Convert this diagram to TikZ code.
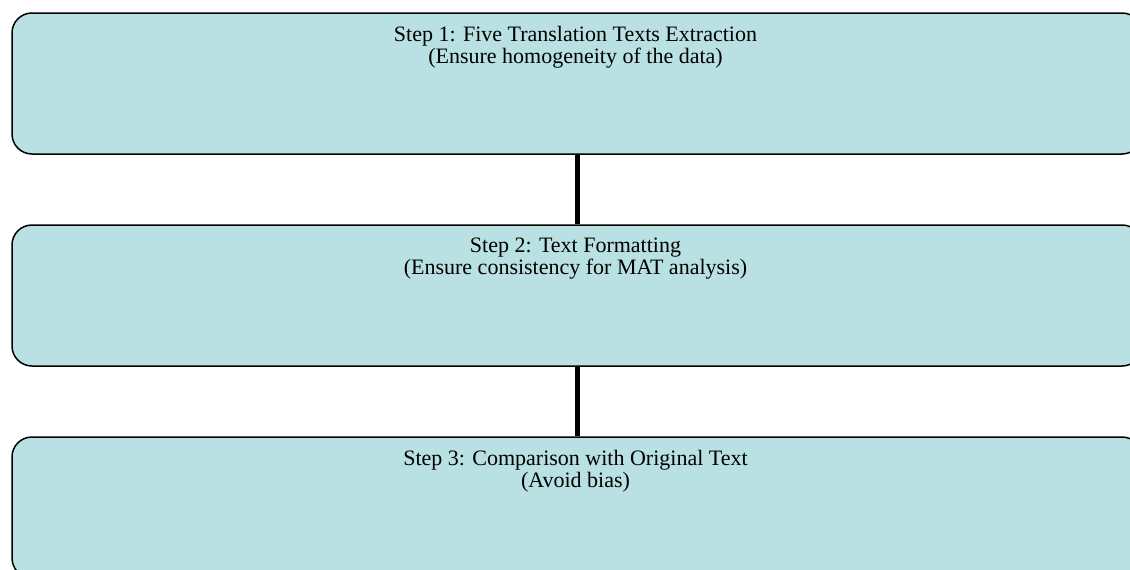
\documentclass[tikz,border=0pt]{standalone}
\usepackage{fontspec}
\setmainfont{Liberation Serif}
\usetikzlibrary{positioning}

\definecolor{boxfill}{RGB}{185,224,227}

\begin{document}
\begin{tikzpicture}[x=1pt, y=-1pt,
    stepbox/.style={draw=black, line width=1.5pt, fill=boxfill, rounded corners=20pt,
      minimum width=1130pt, minimum height=141pt, inner sep=0pt},
    steptext/.style={align=center, font=\fontsize{22}{22}\selectfont, inner sep=0pt},
    link/.style={line width=5pt, black}]
   % Sizes
   \pgfmathsetmacro{\gap}{212}
   \useasboundingbox (0,0) rectangle (1130,570);
   \clip (0,0) rectangle (1130,570);
   % boxes
   \node[stepbox] (step1) at (577, 83.5) {};
   \node[stepbox] (step2) at (577, 83.5+\gap) {};
   \node[stepbox] (step3) at (577, 83.5+2*\gap) {};

   % links
   \draw[link] (step1.south) -- (step2.north);
   \draw[link] (step2.south) -- (step3.north);

   % labels
   \node[steptext, below=13.5pt of step1.north, xshift=-1.5pt] (text1)
     {Step 1: Five Translation Texts Extraction\\(Ensure homogeneity of the data)};
   \node[steptext, below=13.5pt of step2.north, xshift=-1.5pt] (text2)
     {Step 2: Text Formatting\\(Ensure consistency for MAT analysis)};
   \node[steptext, below=13.5pt of step3.north, xshift=-1.5pt] (text3)
     {Step 3: Comparison with Original Text\\(Avoid bias)};
\end{tikzpicture}
\end{document}
